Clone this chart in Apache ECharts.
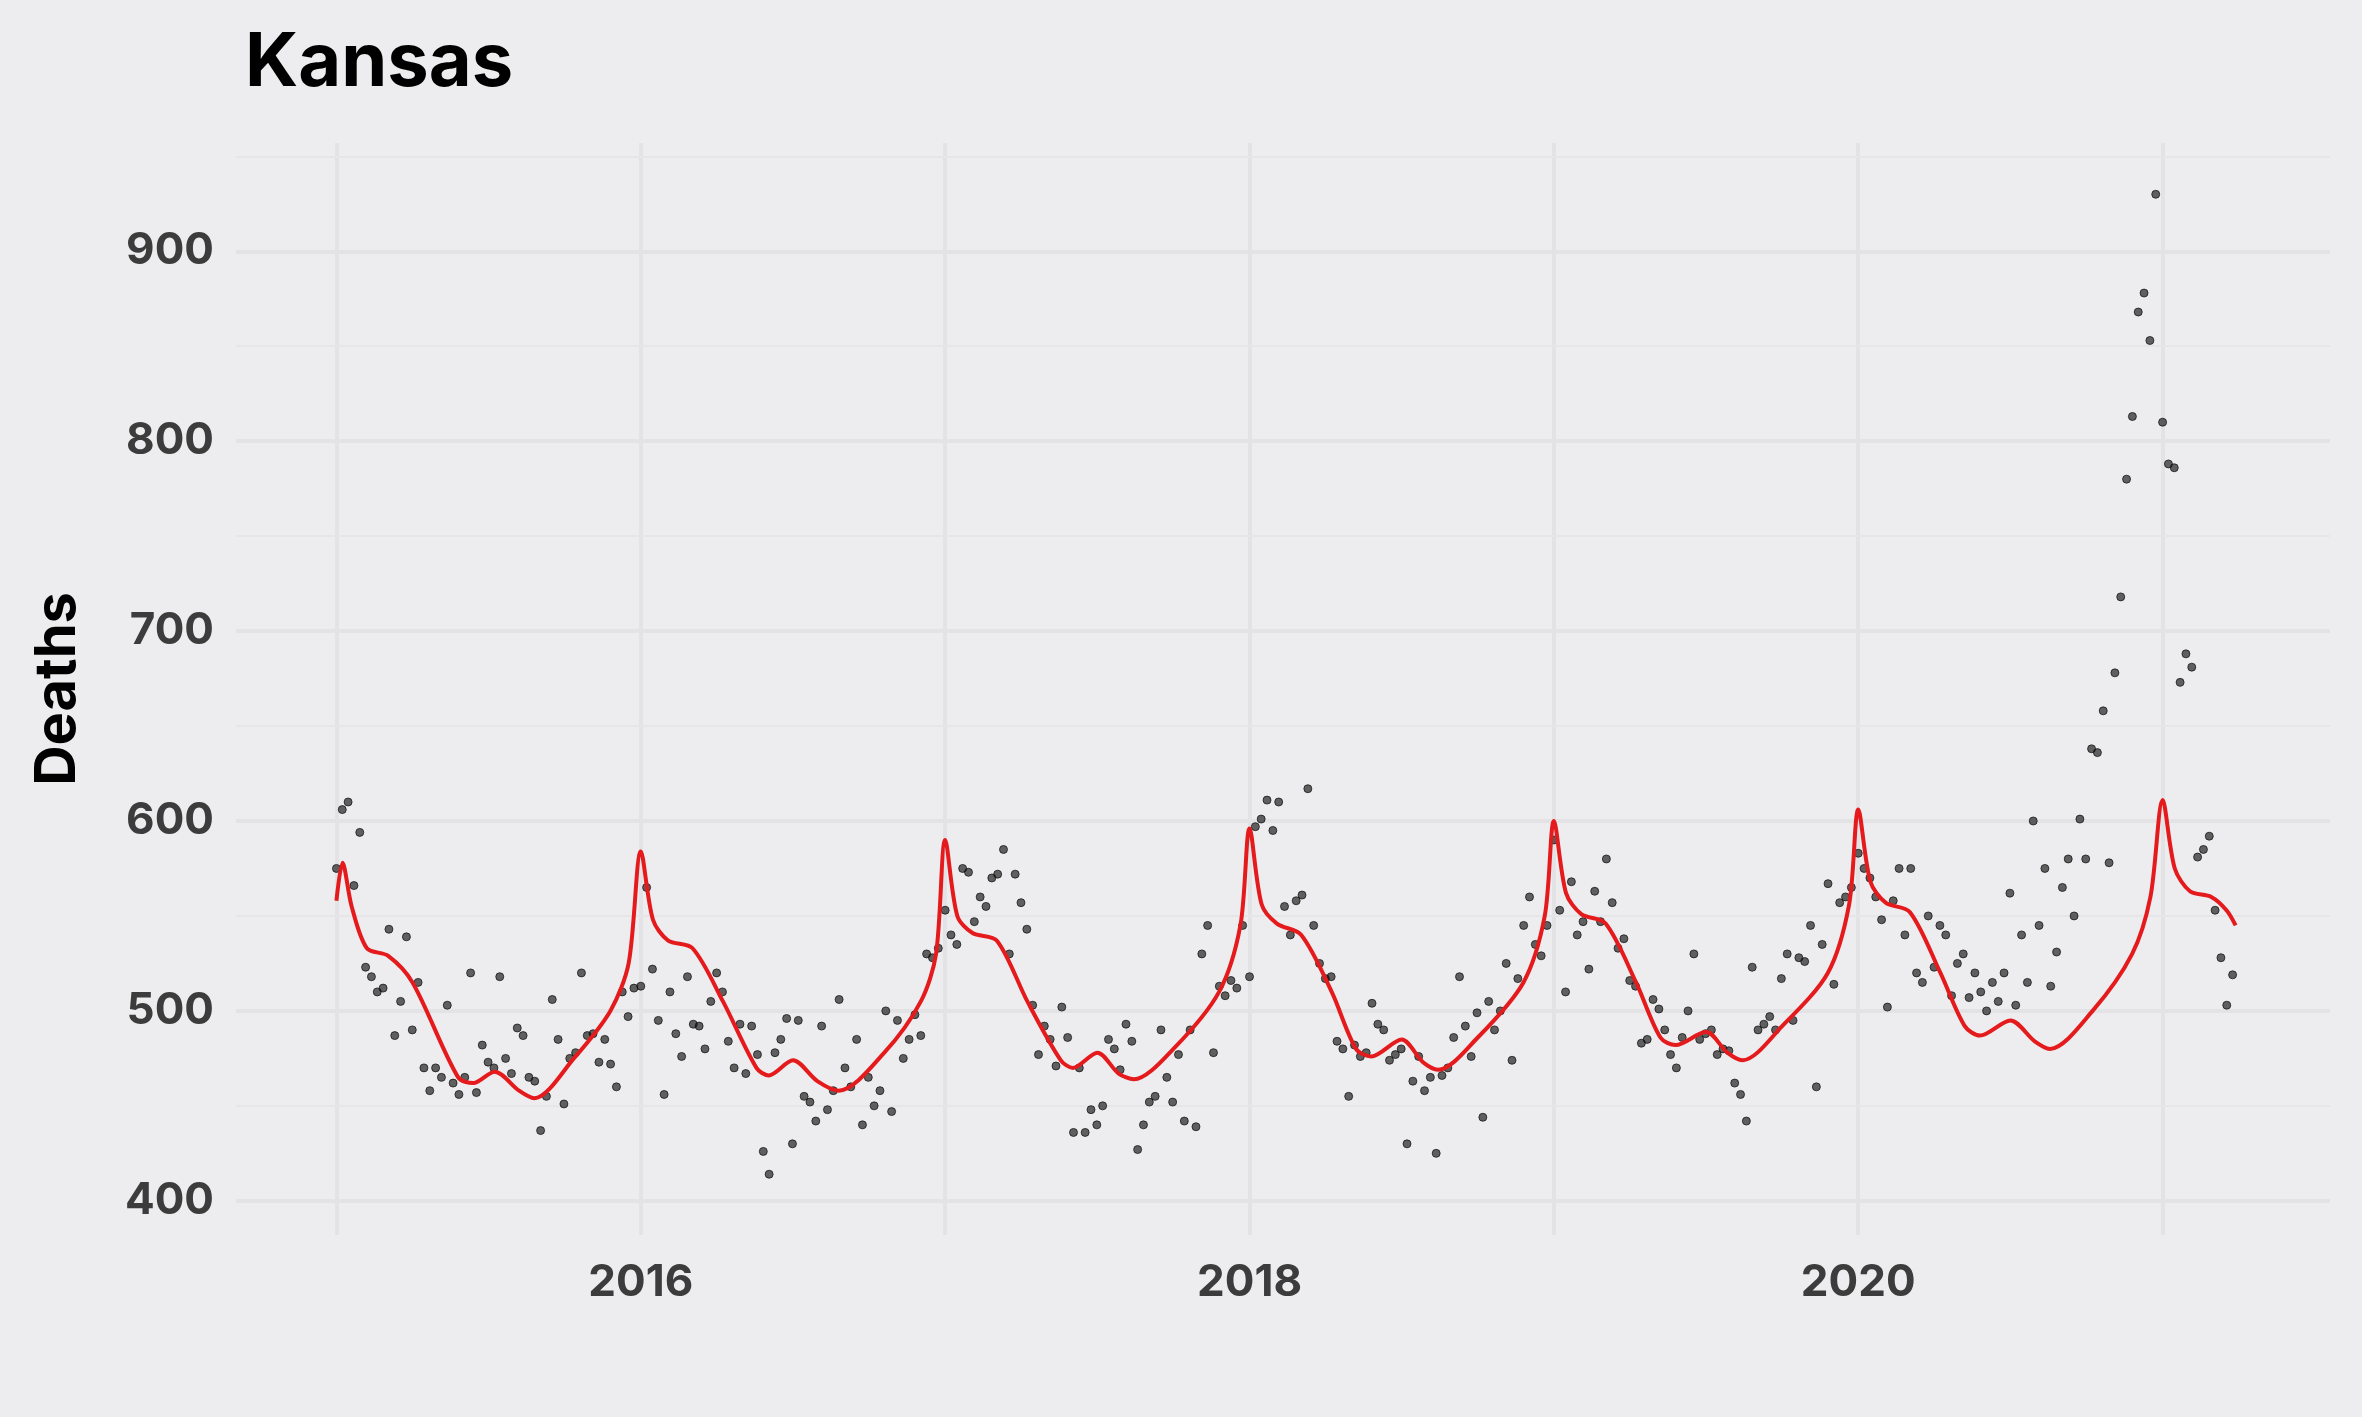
<!DOCTYPE html>
<html><head><meta charset="utf-8">
<script src="https://cdn.jsdelivr.net/npm/echarts@6/dist/echarts.min.js"></script>
<style>html,body{margin:0;padding:0;background:#edecee}#c{width:2362px;height:1417px}</style>
</head><body><div id="c"></div>
<script>
const startYear = 2015;
const weekly2015 = [575,606,610,566,594,523,518,510,512,543,487,505,539,490,515,470,458,470,465,503,462,456,465,520,457,482,473,470,518,475,467,491,487,465,463,437,455,506,485,451,475,478,520,487,488,473,485,472,460,510,497,512];
const weekly2016 = [513,565,522,495,456,510,488,476,518,493,492,480,505,520,510,484,470,493,467,492,477,426,414,478,485,496,430,495,455,452,442,492,448,458,506,470,460,485,440,465,450,458,500,447,495,475,485,498,487,530,528,533];
const weekly2017 = [553,540,535,575,573,547,560,555,570,572,585,530,572,557,543,503,477,492,485,471,502,486,436,470,436,448,440,450,485,480,469,493,484,427,440,452,455,490,465,452,477,442,490,439,530,545,478,513,508,516,512,545];
const weekly2018 = [518,597,601,611,595,610,555,540,558,561,617,545,525,517,518,484,480,455,482,476,478,504,493,490,474,477,480,430,463,476,458,465,425,466,470,486,518,492,476,499,444,505,490,500,525,474,517,545,560,535,529,545];
const weekly2019 = [590,553,510,568,540,547,522,563,547,580,557,533,538,516,513,483,485,506,501,490,477,470,486,500,530,485,488,490,477,480,479,462,456,442,523,490,493,497,490,517,530,495,528,526,545,460,535,567,514,557,560,565];
const weekly2020 = [583,575,570,560,548,502,558,575,540,575,520,515,550,523,545,540,508,525,530,507,520,510,500,515,505,520,562,503,540,515,600,545,575,513,531,565,580,550,601,580,638,636,658,578,678,718,780,813,868,878,853,930];
const weekly2021 = [810,788,786,673,688,681,581,585,592,553,528,503,519];
const trend = [[2015.0,558],[2015.02,578],[2015.05,555],[2015.1,533],[2015.17,529],[2015.25,515],[2015.4,465],[2015.45,462],[2015.52,468],[2015.6,458],[2015.65,454],[2015.78,475],[2015.9,500],[2015.96,525],[2016.0,584],[2016.04,548],[2016.09,537],[2016.17,533],[2016.27,505],[2016.38,470],[2016.42,466],[2016.5,474],[2016.58,463],[2016.65,458],[2016.8,478],[2016.92,505],[2016.97,530],[2017.0,590],[2017.04,550],[2017.09,541],[2017.17,537],[2017.27,505],[2017.38,474],[2017.42,470],[2017.5,478],[2017.57,467],[2017.62,464],[2017.75,480],[2017.9,510],[2017.97,545],[2018.0,596],[2018.04,556],[2018.09,546],[2018.17,540],[2018.27,510],[2018.35,480],[2018.4,476],[2018.5,485],[2018.57,473],[2018.62,469],[2018.75,486],[2018.9,515],[2018.97,550],[2019.0,600],[2019.04,562],[2019.09,551],[2019.17,546],[2019.27,515],[2019.35,486],[2019.4,482],[2019.5,489],[2019.57,478],[2019.62,474],[2019.75,492],[2019.9,520],[2019.97,556],[2020.0,606],[2020.04,568],[2020.09,557],[2020.17,552],[2020.27,520],[2020.35,492],[2020.4,487],[2020.5,495],[2020.58,484],[2020.63,480],[2020.77,500],[2020.9,530],[2020.96,560],[2021.0,611],[2021.04,575],[2021.09,563],[2021.16,560],[2021.21,553],[2021.24,545]];
const yTicks = [400,500,600,700,800,900];
const yMinor = [450,550,650,750,850,950];
const xTicks = [2015,2016,2017,2018,2019,2020,2021];
const xLabels = [2016,2018,2020];

const years = [weekly2015,weekly2016,weekly2017,weekly2018,weekly2019,weekly2020,weekly2021];
const points = [];
years.forEach((arr,i)=>arr.forEach((v,j)=>points.push([startYear+i+j*7/365.25, v])));

const chart = echarts.init(document.getElementById('c'));
chart.setOption({
  backgroundColor:'#edecee',
  animation:false,
  title:{text:'Kansas',left:240,top:22,textStyle:{fontFamily:'Inter',fontWeight:'bold',fontSize:74,color:'#000'}},
  grid:{left:236,right:32,top:143,bottom:182},
  xAxis:{type:'value',min:2014.67,max:2021.55,
    axisLine:{show:false},axisTick:{show:false,customValues:xTicks},
    splitLine:{show:true,lineStyle:{color:'#e3e2e4',width:4}},
    axisLabel:{customValues:xLabels,formatter:v=>String(v),fontFamily:'Inter',fontWeight:'bold',fontSize:44,color:'#3c3c3c',margin:26}},
  yAxis:{type:'value',min:382,max:957,name:'Deaths',nameLocation:'middle',nameGap:150,
    nameTextStyle:{fontFamily:'Inter',fontWeight:'bold',fontSize:56,color:'#000'},
    axisLine:{show:false},axisTick:{show:false,customValues:yTicks},
    splitLine:{show:true,lineStyle:{color:'#e3e2e4',width:4}},
    axisLabel:{customValues:yTicks,fontFamily:'Inter',fontWeight:'bold',fontSize:44,color:'#3c3c3c',margin:22}},
  series:[
    {type:'line',data:[],z:1,
     markLine:{silent:true,symbol:'none',z:1,label:{show:false},lineStyle:{color:'#e6e5e7',width:2,type:'solid'},data:yMinor.map(v=>({yAxis:v}))}},
    {type:'scatter',data:points,symbolSize:8,itemStyle:{color:'rgba(15,15,15,0.8)',borderColor:'rgba(15,15,15,0.9)',borderWidth:1},z:3},
    {type:'line',data:trend,smooth:0.3,showSymbol:false,lineStyle:{color:'#e41a1c',width:4},z:4}
  ]
});
</script></body></html>
